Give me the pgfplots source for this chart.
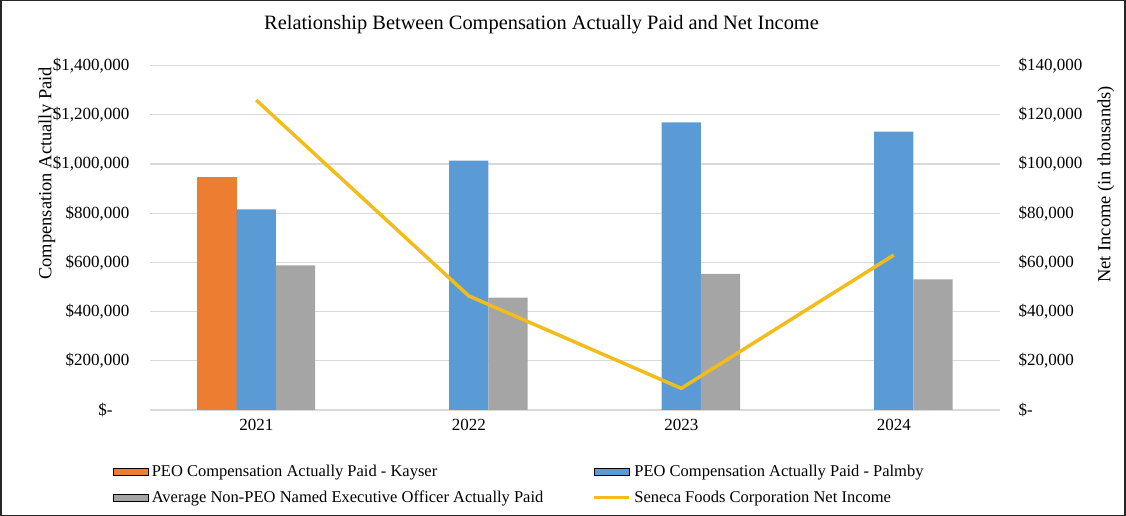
\documentclass[border=0pt]{standalone}
\usepackage{fontspec}
\setmainfont{Liberation Serif}
\usepackage{pgfplots}
\pgfplotsset{compat=1.18}

\definecolor{kayser}{HTML}{ED7D31}
\definecolor{palmby}{HTML}{5B9BD5}
\definecolor{neo}{HTML}{A5A5A5}
\definecolor{netinc}{HTML}{F2BC1B}
\definecolor{gridc}{HTML}{D9D9D9}

\pgfplotsset{
  base/.style={
    scale only axis, width=850pt, height=344.3pt,
    at={(150pt,106pt)}, anchor=south west,
    xmin=-0.5, xmax=3.5, ymin=0,
    axis line style={draw=none},
    tick style={draw=none},
    major tick length=0pt,
    scaled y ticks=false,
    font=\fontsize{17}{20}\selectfont,
  },
  barleg/.style={legend image code/.code={\fill[##1] (0pt,-3.2pt) rectangle (35pt,3.2pt);}},
}

\begin{document}
\begin{tikzpicture}[x=1pt,y=1pt]
\path[use as bounding box] (0,0) rectangle (1126,516);
\draw[line width=1.2pt, black!85] (1,0.6) rectangle (1125,515.4);

% left axis: compensation bars
\begin{axis}[base,
  ymax=1400000,
  ybar,
  ytick={0,200000,400000,600000,800000,1000000,1200000,1400000},
  yticklabels={\$-\hphantom{00},{\$200,000},{\$400,000},{\$600,000},{\$800,000},{\$1,000,000},{\$1,200,000},{\$1,400,000}},
  yticklabel style={xshift=-17pt},
  ymajorgrids, grid style={gridc, line width=1.2pt},
  xtick={0,1,2,3}, xticklabels={2021,2022,2023,2024},
  xticklabel style={yshift=-6pt},
]
\addplot[fill=kayser, draw=none, bar width=0.185, bar shift=-0.185] coordinates {(0,947000)};
\addplot[fill=palmby, draw=none, bar width=0.185, bar shift=0] coordinates {
  (0,816000) (1,1014000) (2,1170000) (3,1132000)};
\addplot[fill=neo, draw=none, bar width=0.185, bar shift=0.185] coordinates {
  (0,588000) (1,457000) (2,553000) (3,531000)};
\end{axis}

% right axis: net income line
\begin{axis}[base,
  ymax=140000,
  xtick=\empty,
  yticklabel pos=right,
  ytick={0,20000,40000,60000,80000,100000,120000,140000},
  yticklabels={\$-,{\$20,000},{\$40,000},{\$60,000},{\$80,000},{\$100,000},{\$120,000},{\$140,000}},
  yticklabel style={xshift=15pt},
  legend columns=2,
  legend cell align=left,
  legend style={at={(axis description cs:-0.0439,-0.154)}, anchor=north west,
    draw=none, fill=none, inner sep=0pt,
    font=\fontsize{16.5}{19}\selectfont,
    nodes={inner xsep=3.5pt, inner ysep=2pt},
    row sep=9pt,
    /tikz/every even column/.append style={column sep=46pt}},
]
\addlegendimage{barleg, fill=kayser}
\addlegendentry{PEO Compensation Actually Paid - Kayser}
\addlegendimage{barleg, fill=palmby}
\addlegendentry{PEO Compensation Actually Paid - Palmby}
\addlegendimage{barleg, fill=neo}
\addlegendentry{Average Non-PEO Named Executive Officer Actually Paid}
\addplot[netinc, line width=3.5pt, line join=round,
  legend image code/.code={\draw[netinc, line width=3pt] (0pt,0pt) -- (35pt,0pt);}]
  coordinates {(0,126000) (1,46400) (2,8800) (3,63000)};
\addlegendentry{Seneca Foods Corporation Net Income}
\end{axis}

\node[font=\fontsize{20.4}{23}\selectfont] at (541.5,491) {Relationship Between Compensation Actually Paid and Net Income};
\node[rotate=90, font=\fontsize{18.5}{22}\selectfont] at (47,342.5) {Compensation Actually Paid};
\node[rotate=90, font=\fontsize{18.5}{22}\selectfont] at (1106,331.5) {Net Income (in thousands)};
\end{tikzpicture}
\end{document}
